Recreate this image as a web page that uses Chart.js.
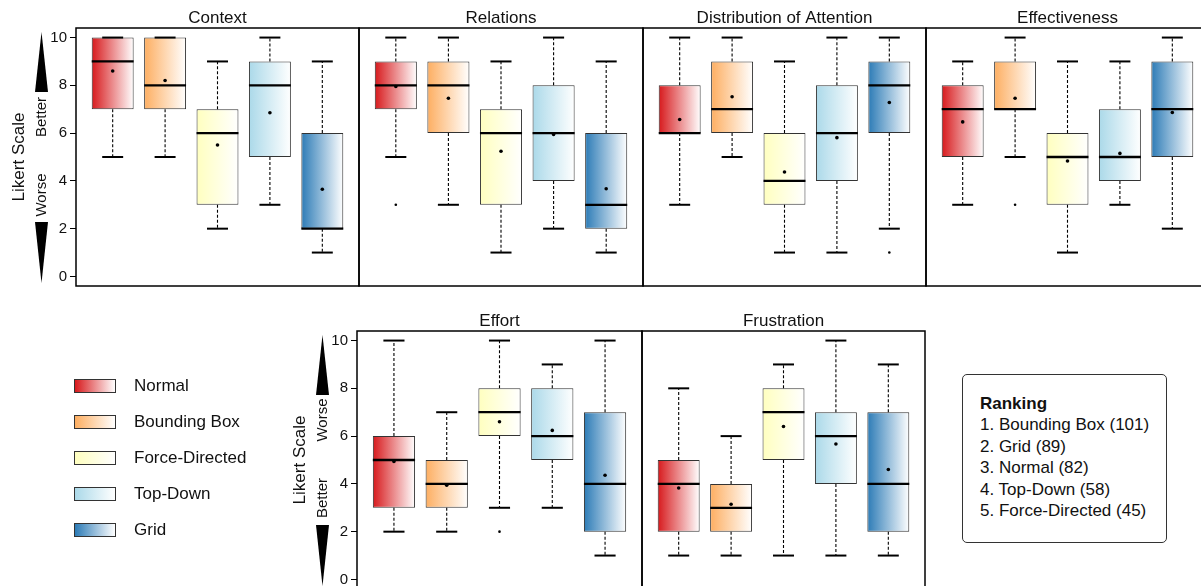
<!DOCTYPE html>
<html>
<head>
<meta charset="utf-8">
<script src="https://cdn.jsdelivr.net/npm/chart.js@4.4.0/dist/chart.umd.min.js"></script>
<style>
html,body{margin:0;padding:0;background:#fff;overflow:hidden;width:1201px;height:586px;}
body{position:relative;font-family:"Liberation Sans",Arial,sans-serif;color:#111;}
canvas{position:absolute;}
.legend{position:absolute;left:74px;top:379px;width:220px;height:170px;}
.row{position:absolute;left:0;width:220px;height:14px;}
.sw{position:absolute;left:0;top:0;width:40px;height:12px;border:1px solid #333;}
.lt{position:absolute;left:60px;top:-3px;font-size:17px;line-height:20px;white-space:nowrap;}
.rank{position:absolute;left:962px;top:374px;width:203px;height:167px;border:1px solid #333;border-radius:5px;
  box-sizing:content-box;padding:0;font-size:17px;line-height:21.4px;}
.rank .inner{position:absolute;left:17px;top:18px;white-space:nowrap;}
.rank b{font-weight:bold;}
</style>
</head>
<body>
<canvas id="p0" width="361" height="290" style="left:0;top:0"></canvas>
<canvas id="p1" width="288" height="290" style="left:357px;top:0"></canvas>
<canvas id="p2" width="287" height="290" style="left:641px;top:0"></canvas>
<canvas id="p3" width="287" height="290" style="left:924px;top:0"></canvas>
<canvas id="p4" width="363" height="290" style="left:281px;top:303px"></canvas>
<canvas id="p5" width="287" height="290" style="left:640px;top:303px"></canvas>
<div class="legend" id="legend"></div>
<div class="rank"><div class="inner" id="ranking"></div></div>
<script>
const groups = ['Normal', 'Bounding Box', 'Force-Directed', 'Top-Down', 'Grid'];
const groupColors = ['#d7191c', '#fdae61', '#ffffbf', '#abd9e9', '#2c7bb6'];
const panelTitles = ['Context', 'Relations', 'Distribution of Attention', 'Effectiveness', 'Effort', 'Frustration'];
const yTicks = [0, 2, 4, 6, 8, 10];

// one row per panel, one value per group
const whiskerLow  = [[5,5,2,3,1],[5,3,1,2,1],[3,5,1,1,2],[3,5,1,3,2],[2,2,3,3,1],[1,1,1,1,1]];
const q1          = [[7,7,3,5,2],[7,6,3,4,2],[6,6,3,4,6],[5,7,3,4,5],[3,3,6,5,2],[2,2,5,4,2]];
const medians     = [[9,8,6,8,2],[8,8,6,6,3],[6,7,4,6,8],[7,7,5,5,7],[5,4,7,6,4],[4,3,7,6,4]];
const q3          = [[10,10,7,9,6],[9,9,7,8,6],[8,9,6,8,9],[8,9,6,7,9],[6,5,8,8,7],[5,4,8,7,7]];
const whiskerHigh = [[10,10,9,10,9],[10,10,9,10,9],[10,10,9,10,10],[9,10,9,9,10],[10,7,10,9,10],[8,6,9,10,9]];
const means       = [[8.6,8.2,5.5,6.85,3.65],[7.95,7.46,5.24,5.94,3.67],[6.57,7.52,4.37,5.81,7.28],
                     [6.47,7.46,4.83,5.15,6.86],[4.94,3.94,6.6,6.24,4.36],[3.83,3.15,6.4,5.67,4.6]];
// [group position (1-5), value]
const outliers    = [[], [[1,3]], [[5,1]], [[2,3]], [[3,2]], []];

const ranking = [['Bounding Box', 101], ['Grid', 89], ['Normal', 82], ['Top-Down', 58], ['Force-Directed', 45]];

Chart.defaults.font.family = '"Liberation Sans", Arial, sans-serif';
Chart.defaults.color = '#111';

function seg(c, x1, y1, x2, y2){ c.beginPath(); c.moveTo(x1, y1); c.lineTo(x2, y2); c.stroke(); }

function boxParts(p, deco){
  return {
    id: 'boxParts',
    afterDatasetDraw(chart, args){
      if (args.meta.type !== 'bar') return;
      const c = chart.ctx, xs = chart.scales.x, ys = chart.scales.y;
      const half = xs.getPixelForValue(1.4) - xs.getPixelForValue(1);
      const cap = half / 2;
      c.save();
      c.strokeStyle = '#000';
      groups.forEach((g, i) => {
        const x = xs.getPixelForValue(i + 1);
        c.lineWidth = 1.1; c.setLineDash([3, 2]);
        seg(c, x, ys.getPixelForValue(q3[p][i]), x, ys.getPixelForValue(whiskerHigh[p][i]));
        seg(c, x, ys.getPixelForValue(q1[p][i]), x, ys.getPixelForValue(whiskerLow[p][i]));
        c.setLineDash([]); c.lineWidth = 2;
        const yh = ys.getPixelForValue(whiskerHigh[p][i]), yl = ys.getPixelForValue(whiskerLow[p][i]);
        seg(c, x - cap, yh, x + cap, yh);
        seg(c, x - cap, yl, x + cap, yl);
        c.lineWidth = 2.3;
        const ym = ys.getPixelForValue(medians[p][i]);
        seg(c, x - half, ym, x + half, ym);
      });
      c.restore();
    },
    afterDraw(chart){
      const c = chart.ctx, a = chart.chartArea;
      c.save();
      c.strokeStyle = '#000'; c.lineWidth = 1.5;
      c.strokeRect(a.left, a.top, a.right - a.left, a.bottom - a.top);
      if (deco){
        const cx = 41.5;
        c.fillStyle = '#000';
        c.beginPath(); c.moveTo(cx, a.top + 4); c.lineTo(cx + 6.5, a.top + 64); c.lineTo(cx - 6.5, a.top + 64); c.closePath(); c.fill();
        c.beginPath(); c.moveTo(cx - 6.5, a.top + 194); c.lineTo(cx + 6.5, a.top + 194); c.lineTo(cx, a.top + 255); c.closePath(); c.fill();
        c.fillStyle = '#111';
        c.textAlign = 'center'; c.textBaseline = 'middle';
        const rot = (txt, x, y, size) => {
          c.save(); c.translate(x, y); c.rotate(-Math.PI / 2);
          c.font = size + 'px "Liberation Sans", Arial, sans-serif';
          c.fillText(txt, 0, 0); c.restore();
        };
        rot(deco.upper, cx, a.top + 89, 15);
        rot(deco.lower, cx, a.top + 167, 15);
        rot('Likert Scale', 19, (a.top + a.bottom) / 2, 17);
      }
      c.restore();
    }
  };
}

function boxFill(c){
  const xs = c.chart.scales.x;
  const i = c.dataIndex;
  if (!xs || i === undefined) return groupColors[0];
  const x = xs.getPixelForValue(i + 1);
  const half = xs.getPixelForValue(1.4) - xs.getPixelForValue(1);
  if (!isFinite(x) || !isFinite(half) || half <= 0) return groupColors[i];
  const grad = c.chart.ctx.createLinearGradient(x - half, 0, x + half, 0);
  grad.addColorStop(0, groupColors[i]);
  grad.addColorStop(1, '#ffffff');
  return grad;
}

function makePanel(p, withAxis, deco){
  const ctx = document.getElementById('p' + p);
  new Chart(ctx, {
    type: 'bar',
    data: {
      datasets: [
        {
          type: 'scatter', order: 1,
          data: groups.map((g, i) => ({x: i + 1, y: means[p][i]})),
          pointRadius: 1.8, pointHoverRadius: 0, backgroundColor: '#000', borderWidth: 0
        },
        {
          type: 'scatter', order: 1,
          data: outliers[p].map(o => ({x: o[0], y: o[1]})),
          pointRadius: 1.3, pointHoverRadius: 0, backgroundColor: '#000', borderWidth: 0
        },
        {
          type: 'bar', order: 2,
          data: groups.map((g, i) => ({x: i + 1, y: [q1[p][i], q3[p][i]]})),
          backgroundColor: boxFill,
          borderColor: '#333', borderWidth: 1, borderSkipped: false,
          categoryPercentage: 1, barPercentage: 0.8
        }
      ]
    },
    options: {
      responsive: false,
      animation: false,
      events: [],
      layout: {autoPadding: false, padding: {left: withAxis ? 0 : 2, right: 2, top: 0, bottom: 4}},
      plugins: {
        legend: {display: false},
        tooltip: {enabled: false},
        title: {
          display: true, fullSize: false, text: panelTitles[p], color: '#111',
          font: {size: 17, weight: 'normal', lineHeight: 1},
          padding: {top: 10, bottom: 1}
        }
      },
      scales: {
        x: {
          type: 'linear', min: 0.3, max: 5.7, offset: false, display: false,
          afterBuildTicks: s => { s.ticks = groups.map((g, i) => ({value: i + 1})); }
        },
        y: {
          type: 'linear', min: -0.4, max: 10.4, display: withAxis,
          afterBuildTicks: s => { s.ticks = yTicks.map(v => ({value: v})); },
          afterFit: s => { if (withAxis) s.width = 76; s.paddingTop = 0; s.paddingBottom = 0; },
          ticks: {font: {size: 15}, color: '#111', padding: 3},
          grid: {display: true, drawOnChartArea: false, drawTicks: true, tickLength: 6, tickColor: '#000', tickWidth: 1},
          border: {display: false}
        }
      }
    },
    plugins: [boxParts(p, deco)]
  });
}

makePanel(0, true, {upper: 'Better', lower: 'Worse'});
makePanel(1, false);
makePanel(2, false);
makePanel(3, false);
makePanel(4, true, {upper: 'Worse', lower: 'Better'});
makePanel(5, false);

// legend
const leg = document.getElementById('legend');
groups.forEach((g, i) => {
  const row = document.createElement('div');
  row.className = 'row';
  row.style.top = (i * 36.1) + 'px';
  row.innerHTML = `<div class="sw" style="background:linear-gradient(to right, ${groupColors[i]}, #ffffff)"></div><div class="lt">${g}</div>`;
  leg.appendChild(row);
});

// ranking box
const rk = document.getElementById('ranking');
rk.innerHTML = '<b>Ranking</b><br>' + ranking.map((r, i) => `${i + 1}. ${r[0]} (${r[1]})`).join('<br>');
</script>
</body>
</html>
